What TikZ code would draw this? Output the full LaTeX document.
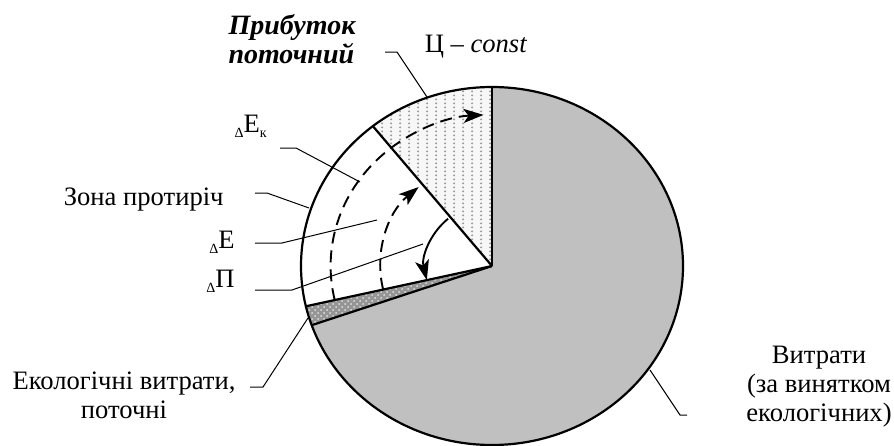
\documentclass[tikz,border=0pt]{standalone}
\usepackage{fontspec}
\setmainfont{Liberation Serif}
\usetikzlibrary{arrows.meta,patterns,patterns.meta}
\definecolor{CostGray}{HTML}{C0C0C0}
\definecolor{EcoGray}{HTML}{959595}
\definecolor{DotGray}{HTML}{9C9C9C}
\newcommand{\lowsub}[1]{\raisebox{-0.45ex}{\scriptsize #1}}
\tikzdeclarepattern{name=dotcols, type=uncolored,
  bounding box={(0,0) and (4.5pt,1.8pt)}, tile size={(4.5pt,1.8pt)},
  code={\fill (2.25pt,0.9pt) circle (0.6pt);}}

\begin{document}
\begin{tikzpicture}[x=0.5pt,y=0.5pt,
    every node/.style={font=\fontsize{13.3}{14.5}\selectfont,inner sep=0pt},
    rim/.style={line width=1.1pt},
    leader/.style={line width=0.5pt},
    flow/.style={line width=0.95pt,-{Stealth[length=10pt,width=7pt,inset=2.5pt]}},
    gap/.style={dash pattern=on 6pt off 3.5pt}]
  \useasboundingbox (0,0) rectangle (894,-445);
  \coordinate (ctr) at (492,-266);

  % sectors
  \fill[CostGray] (ctr) -- ++(199.3:191 and 179)
    arc[start angle=199.3,end angle=450,x radius=191,y radius=179] -- cycle;
  \fill[EcoGray] (ctr) -- ++(193:191 and 179)
    arc[start angle=193,end angle=199.3,x radius=191,y radius=179] -- cycle;
  \fill[pattern=crosshatch dots,pattern color=white!75!gray] (ctr) -- ++(193:191 and 179)
    arc[start angle=193,end angle=199.3,x radius=191,y radius=179] -- cycle;
  \fill[gray!6] (ctr) -- ++(90:191 and 179)
    arc[start angle=90,end angle=128.6,x radius=191,y radius=179] -- cycle;
  \fill[pattern=dotcols,pattern color=DotGray] (ctr) -- ++(90:191 and 179)
    arc[start angle=90,end angle=128.6,x radius=191,y radius=179] -- cycle;

  \draw[rim] (ctr) ellipse[x radius=191,y radius=179];
  \foreach \a in {90,128.6,193,199.3}
    \draw[rim] (ctr) -- ++(\a:191 and 179);

  % arrows in the zone
  \draw[flow,gap] (ctr) ++(193:161.4 and 151.3)
    arc[start angle=193,end angle=93,x radius=161.4,y radius=151.3];
  \draw[flow,gap] (ctr) ++(193:111.7 and 104.7)
    arc[start angle=193,end angle=131,x radius=111.7,y radius=104.7];
  \draw[flow] (ctr) ++(131:66.9 and 62.7)
    arc[start angle=131,end angle=193,x radius=66.9,y radius=62.7];

  % labels
  \node[font=\fontsize{14}{14.5}\selectfont\bfseries\itshape,align=left] (profit) at (292,-39) {Прибуток\\поточний};
  \node (price) at (476,-47) {Ц -- \textit{const}};
  \node[anchor=base east] (dEk) at (267,-132) {\lowsub{Δ}E\lowsub{к}};
  \node[anchor=base east] (zone) at (224,-205) {Зона протиріч};
  \node[anchor=base east] (dE) at (235,-248) {\lowsub{Δ}E};
  \node[anchor=base east] (dP) at (235,-287) {\lowsub{Δ}П};
  \node[align=center] (eco) at (124,-395) {Екологічні витрати,\\поточні};
  \node[align=center] (cost) at (819,-387) {Витрати\\(за винятком\\екологічних)};

  % leaders
  \coordinate (profitTail) at (385,-52);
  \coordinate (profitTip) at (427,-97);
  \coordinate (dEkTail) at (280,-148);
  \coordinate (dEkTip) at (360,-182);
  \coordinate (zoneTail) at (255,-193);
  \coordinate (zoneTip) at (309,-208);
  \coordinate (dETail) at (255,-243);
  \coordinate (dETip) at (377,-220);
  \coordinate (dPTail) at (255,-290);
  \coordinate (dPTip) at (423,-244);
  \coordinate (ecoTail) at (250,-387);
  \coordinate (ecoTip) at (308,-318);
  \coordinate (costTail) at (687,-415);
  \coordinate (costTip) at (650,-370);
  \draw[leader] (profitTail) -- ++(12,0) -- (profitTip);
  \draw[leader] (dEkTail) -- ++(16,0) -- (dEkTip);
  \draw[leader] (zoneTail) -- ++(12,0) -- (zoneTip);
  \draw[leader] (dETail) -- ++(27,0) -- (dETip);
  \draw[leader] (dPTail) -- ++(37,0) -- (dPTip);
  \draw[leader] (ecoTail) -- ++(13,0) -- (ecoTip);
  \draw[leader] (costTail) -- ++(-7,0) -- (costTip);
\end{tikzpicture}
\end{document}
